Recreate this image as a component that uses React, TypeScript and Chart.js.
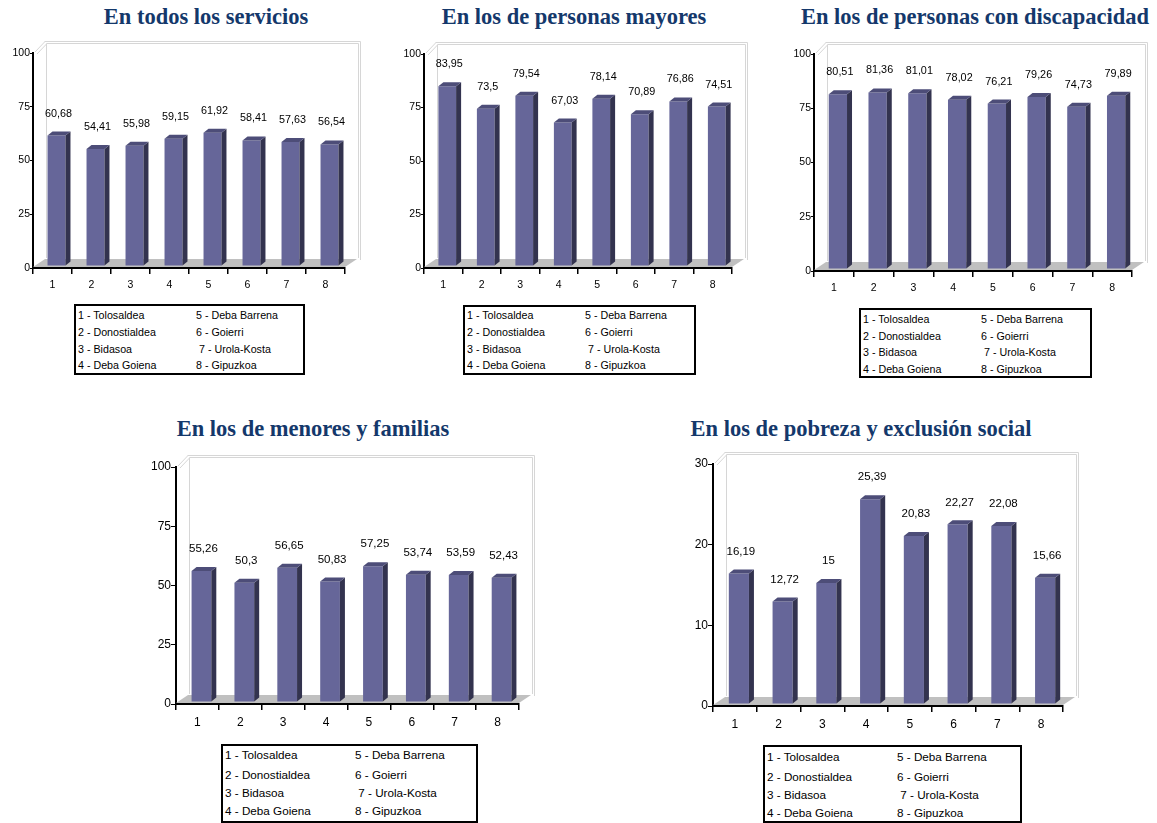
import React, { useEffect, useRef } from "react";
import { Chart, registerables } from "chart.js";

Chart.register(...registerables);

// ---------- DATA ----------
const categories = ["1", "2", "3", "4", "5", "6", "7", "8"];
const todosValues = [60.68, 54.41, 55.98, 59.15, 61.92, 58.41, 57.63, 56.54];
const mayoresValues = [83.95, 73.5, 79.54, 67.03, 78.14, 70.89, 76.86, 74.51];
const discapacidadValues = [80.51, 81.36, 81.01, 78.02, 76.21, 79.26, 74.73, 79.89];
const menoresValues = [55.26, 50.3, 56.65, 50.83, 57.25, 53.74, 53.59, 52.43];
const pobrezaValues = [16.19, 12.72, 15, 25.39, 20.83, 22.27, 22.08, 15.66];
const ticks100 = [0, 25, 50, 75, 100];
const ticks30 = [0, 10, 20, 30];
const legendLeft = ["1 - Tolosaldea", "2 - Donostialdea", "3 - Bidasoa", "4 - Deba Goiena"];
const legendRight = ["5 - Deba Barrena", "6 - Goierri", " 7 - Urola-Kosta", "8 - Gipuzkoa"];
const titles = [
  "En todos los servicios",
  "En los de personas mayores",
  "En los de personas con discapacidad",
  "En los de menores y familias",
  "En los de pobreza y exclusión social",
];

// ---------- LAYOUT ----------
type Panel = {
  title: string;
  values: number[];
  ticks: number[];
  axisX: number;
  topY: number;
  bottomY: number;
  rightX: number;
  titleX: number;
  titleY: number;
  fsTick: number;
  fsLabel: number;
  fsLegend: number;
  tickLen: number;
  legend: { x: number; y: number; w: number; h: number; rows: number[]; col2: number };
};

const panels: Panel[] = [
  {
    title: titles[0], values: todosValues, ticks: ticks100,
    axisX: 33, topY: 53, bottomY: 268, rightX: 345, titleX: 206, titleY: 4,
    fsTick: 10.5, fsLabel: 10.8, fsLegend: 10.7, tickLen: 3,
    legend: { x: 74, y: 304, w: 231, h: 71, rows: [11, 28, 45, 61], col2: 122 },
  },
  {
    title: titles[1], values: mayoresValues, ticks: ticks100,
    axisX: 424, topY: 54, bottomY: 268, rightX: 732, titleX: 574, titleY: 4,
    fsTick: 10.5, fsLabel: 10.8, fsLegend: 10.7, tickLen: 3,
    legend: { x: 463, y: 305, w: 233, h: 70, rows: [10, 27, 44, 60], col2: 122 },
  },
  {
    title: titles[2], values: discapacidadValues, ticks: ticks100,
    axisX: 814, topY: 54, bottomY: 271, rightX: 1132, titleX: 975, titleY: 4,
    fsTick: 10.5, fsLabel: 10.8, fsLegend: 10.7, tickLen: 3,
    legend: { x: 859, y: 308, w: 233, h: 70, rows: [11, 28, 44, 61], col2: 122 },
  },
  {
    title: titles[3], values: menoresValues, ticks: ticks100,
    axisX: 176, topY: 467, bottomY: 704, rightX: 519, titleX: 313, titleY: 416,
    fsTick: 12, fsLabel: 11.5, fsLegend: 11.7, tickLen: 5,
    legend: { x: 221, y: 744, w: 257, h: 79, rows: [10, 30, 48, 66], col2: 134 },
  },
  {
    title: titles[4], values: pobrezaValues, ticks: ticks30,
    axisX: 713, topY: 464, bottomY: 706, rightX: 1063, titleX: 861, titleY: 416,
    fsTick: 12, fsLabel: 11.5, fsLegend: 11.7, tickLen: 5,
    legend: { x: 763, y: 745, w: 259, h: 78, rows: [11, 31, 49, 67], col2: 134 },
  },
];

const Y_AXIS_W = 30;
const X_AXIS_H = 30;
const PAD_TOP = 18;
const PAD_RIGHT = 22;

const WALL = { dx: 13, dy: -10 };
const FLOOR = { dx: 12, dy: -8 };
const SHIFT = { dx: 4, dy: -2 };
const BAR3D = { dx: 5, dy: -4 };

const FRONT = "#666699";
const SIDE = "#33334f";
const TOP = "#4d4d78";

const fmt = (v: number) => String(v).replace(".", ",");

const threeD = {
  id: "threeD",
  beforeDatasetsDraw(chart: any) {
    const { ctx, chartArea: a, scales } = chart;
    const y0 = scales.y.getPixelForValue(0);
    ctx.save();
    // back wall
    ctx.strokeStyle = "#d6d6d6";
    ctx.lineWidth = 1;
    const wl = a.left + WALL.dx, wt = a.top + WALL.dy, wr = a.right + WALL.dx, wb = y0 + WALL.dy;
    ctx.beginPath();
    ctx.moveTo(wl + 0.5, wb);
    ctx.lineTo(wl + 0.5, wt + 0.5);
    ctx.lineTo(wr + 0.5, wt + 0.5);
    ctx.lineTo(wr + 0.5, wb);
    ctx.stroke();
    ctx.beginPath();
    ctx.moveTo(wl - 1.5, wt - 1.5);
    ctx.lineTo(wr + 2.5, wt - 1.5);
    ctx.lineTo(wr + 2.5, wb + 2);
    ctx.stroke();
    ctx.beginPath();
    ctx.moveTo(a.left + 2, a.top - 1);
    ctx.lineTo(wl - 1, wt - 1.5);
    ctx.moveTo(a.left + 4, a.top + 1);
    ctx.lineTo(wl + 0.5, wt + 1);
    ctx.stroke();
    // floor
    ctx.fillStyle = "#c0c0c0";
    ctx.beginPath();
    ctx.moveTo(a.left, y0 - 1);
    ctx.lineTo(a.right, y0 - 1);
    ctx.lineTo(a.right + FLOOR.dx, y0 - 1 + FLOOR.dy);
    ctx.lineTo(a.left + FLOOR.dx, y0 - 1 + FLOOR.dy);
    ctx.closePath();
    ctx.fill();
    ctx.restore();
    ctx.save();
    ctx.translate(SHIFT.dx, SHIFT.dy);
  },
  afterDatasetsDraw(chart: any, _args: any, opts: any) {
    const { ctx } = chart;
    ctx.restore();
    const meta = chart.getDatasetMeta(0);
    const values: number[] = chart.data.datasets[0].data;
    ctx.save();
    meta.data.forEach((bar: any, i: number) => {
      const { x, y, base, width } = bar.getProps(["x", "y", "base", "width"], true);
      const l = x - width / 2 + SHIFT.dx;
      const r = x + width / 2 + SHIFT.dx;
      const t = y + SHIFT.dy;
      const b = base + SHIFT.dy;
      ctx.fillStyle = SIDE;
      ctx.beginPath();
      ctx.moveTo(r, t);
      ctx.lineTo(r + BAR3D.dx, t + BAR3D.dy);
      ctx.lineTo(r + BAR3D.dx, b + BAR3D.dy);
      ctx.lineTo(r, b);
      ctx.closePath();
      ctx.fill();
      ctx.fillStyle = TOP;
      ctx.beginPath();
      ctx.moveTo(l, t);
      ctx.lineTo(l + BAR3D.dx, t + BAR3D.dy);
      ctx.lineTo(r + BAR3D.dx, t + BAR3D.dy);
      ctx.lineTo(r, t);
      ctx.closePath();
      ctx.fill();
      // value label
      ctx.fillStyle = "#000";
      ctx.font = `${opts.fs}px "Liberation Sans", Arial, sans-serif`;
      ctx.textAlign = "center";
      ctx.textBaseline = "middle";
      ctx.fillText(fmt(values[i]), x + 6, y - 24);
    });
    ctx.restore();
  },
};

function BarPanel({ p }: { p: Panel }) {
  const ref = useRef<HTMLCanvasElement>(null);
  const left = p.axisX - Y_AXIS_W;
  const top = p.topY - PAD_TOP;
  const height = p.bottomY - top + X_AXIS_H;
  const width = p.rightX - left + PAD_RIGHT;

  useEffect(() => {
    if (!ref.current) return;
    const font = { family: '"Liberation Sans", Arial, sans-serif', size: p.fsTick };
    const chart = new Chart(ref.current, {
      type: "bar",
      data: {
        labels: categories,
        datasets: [
          {
            data: p.values,
            backgroundColor: FRONT,
            borderWidth: 0,
            barPercentage: 0.46,
            categoryPercentage: 1,
          },
        ],
      },
      options: {
        responsive: false,
        animation: false,
        devicePixelRatio: 1,
        layout: { padding: { top: PAD_TOP, right: PAD_RIGHT, left: 0, bottom: 0 } },
        plugins: {
          legend: { display: false },
          tooltip: { enabled: false },
          title: { display: false },
          threeD: { fs: p.fsLabel },
        } as any,
        scales: {
          x: {
            grid: { drawOnChartArea: false, drawTicks: true, tickLength: 6, color: "#000", lineWidth: 1.5, offset: true },
            border: { color: "#000", width: 2 },
            ticks: { color: "#000", font, padding: 5, maxRotation: 0 },
            afterFit: (s: any) => { s.height = X_AXIS_H; },
          },
          y: {
            min: 0,
            max: p.ticks[p.ticks.length - 1],
            afterBuildTicks: (s: any) => { s.ticks = p.ticks.map((v) => ({ value: v })); },
            grid: { drawOnChartArea: false, drawTicks: true, tickLength: p.tickLen, color: "#000", lineWidth: 1 },
            border: { color: "#000", width: 2 },
            ticks: { color: "#000", font, padding: 0, callback: (v: any) => String(v) },
            afterFit: (s: any) => { s.width = Y_AXIS_W; },
          },
        },
      },
      plugins: [threeD],
    } as any);
    return () => chart.destroy();
  }, [p]);

  const lg = p.legend;
  const lh = Math.round(p.fsLegend + 3);
  return (
    <>
      <div
        style={{
          position: "absolute",
          left: p.titleX,
          top: p.titleY,
          transform: "translateX(-50%)",
          whiteSpace: "nowrap",
          fontFamily: '"Liberation Serif", "Times New Roman", serif',
          fontWeight: "bold",
          fontSize: 22.5,
          lineHeight: "26px",
          color: "#14386b",
        }}
      >
        {p.title}
      </div>
      <canvas
        ref={ref}
        width={width}
        height={height}
        style={{ position: "absolute", left, top, width, height }}
      />
      <div
        style={{
          position: "absolute",
          left: lg.x,
          top: lg.y,
          width: lg.w,
          height: lg.h,
          boxSizing: "border-box",
          border: "2px solid #000",
          background: "#fff",
          fontFamily: '"Liberation Sans", Arial, sans-serif',
          fontSize: p.fsLegend,
          color: "#000",
        }}
      >
        {legendLeft.map((t, i) => (
          <div
            key={"l" + i}
            style={{ position: "absolute", left: 2, top: lg.rows[i] - lh / 2 - 2, lineHeight: lh + "px", whiteSpace: "pre" }}
          >
            {t}
          </div>
        ))}
        {legendRight.map((t, i) => (
          <div
            key={"r" + i}
            style={{ position: "absolute", left: lg.col2 - 2, top: lg.rows[i] - lh / 2 - 2, lineHeight: lh + "px", whiteSpace: "pre" }}
          >
            {t}
          </div>
        ))}
      </div>
    </>
  );
}

export default function App() {
  return (
    <div style={{ position: "absolute", left: 0, top: 0, width: 1157, height: 823, overflow: "hidden", background: "#fff" }}>
      {panels.map((p, i) => (
        <BarPanel key={i} p={p} />
      ))}
    </div>
  );
}
